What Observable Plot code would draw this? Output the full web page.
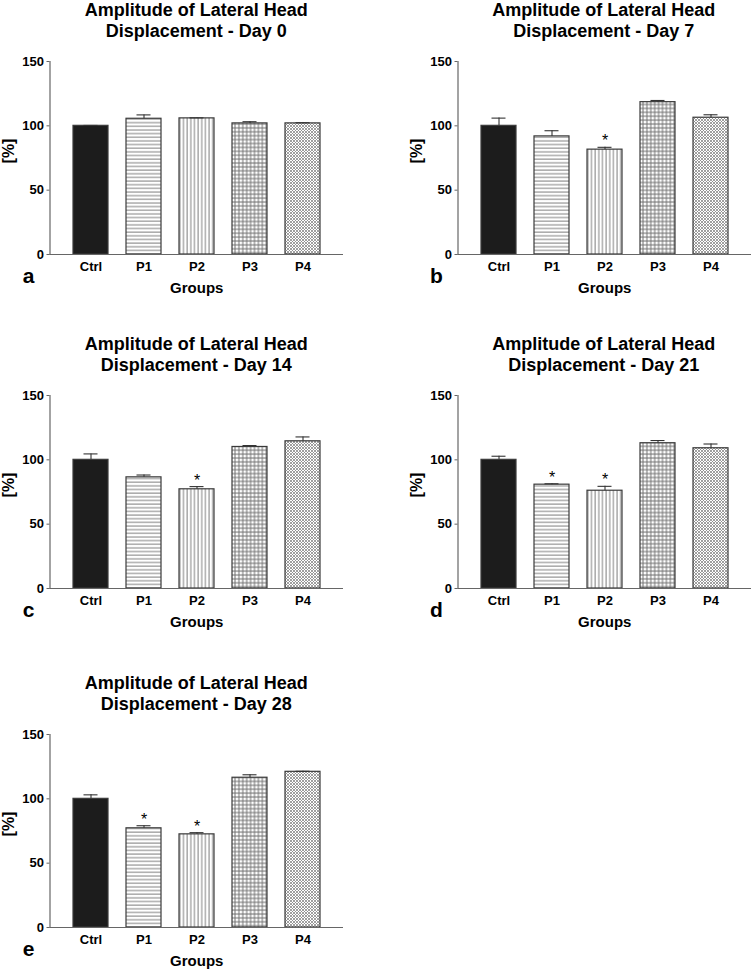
<!DOCTYPE html>
<html>
<head>
<meta charset="utf-8">
<script src="https://cdn.jsdelivr.net/npm/d3@7"></script>
<script src="https://cdn.jsdelivr.net/npm/@observablehq/plot@0.6"></script>
<style>
  html, body { margin: 0; padding: 0; background: #fff; }
  body { position: relative; width: 752px; height: 971px; overflow: hidden; font-family: "Liberation Sans", Arial, sans-serif; }
  .panel { position: absolute; width: 346px; height: 330px; }
  .title { position: absolute; left: 49.5px; width: 293.5px; top: 0px; text-align: center; font-size: 18px; font-weight: bold; line-height: 21px; color: #000; }
  .panel svg { position: absolute; left: 0; top: 45px; overflow: visible; }
</style>
</head>
<body>
<script>
// ---- data ----
const groups = ["Ctrl", "P1", "P2", "P3", "P4"];
const days = [0, 7, 14, 21, 28];
const letters = ["a", "b", "c", "d", "e"];
const titlePrefix = "Amplitude of Lateral Head";
const titleSuffix = "Displacement - Day ";
const yTicks = [0, 50, 100, 150];

const means0 = [100, 105.5, 105.8, 101.9, 101.9];
const errs0  = [0.3, 3.0, 0.4, 1.3, 0.5];
const means7 = [100, 91.8, 81.5, 118.4, 106.3];
const errs7  = [6.0, 4.4, 1.8, 1.3, 2.3];
const means14 = [100, 86.4, 77.1, 110.0, 114.4];
const errs14  = [4.6, 1.8, 2.1, 1.1, 3.4];
const means21 = [100, 80.7, 76.0, 112.9, 109.0];
const errs21  = [2.8, 0.7, 3.4, 2.1, 3.3];
const means28 = [100, 77.1, 72.4, 116.4, 121.0];
const errs28  = [3.1, 2.0, 1.3, 2.3, 0.4];

const stars0 = [];
const stars7 = ["P2"];
const stars14 = ["P2"];
const stars21 = ["P1", "P2"];
const stars28 = ["P1", "P2"];

const allMeans = [means0, means7, means14, means21, means28];
const allErrs = [errs0, errs7, errs14, errs21, errs28];
const allStars = [stars0, stars7, stars14, stars21, stars28];

// panel placement
const offsets = [[0, 0], [407.5, 0], [0, 334], [407.5, 334], [0, 673]];

function addPatterns(svg, k) {
  const defs = d3.select(svg).insert("defs", ":first-child");
  // P1 horizontal lines
  const p1 = defs.append("pattern").attr("id", `p1-${k}`).attr("patternUnits", "userSpaceOnUse")
    .attr("width", 10).attr("height", 3.65);
  p1.append("rect").attr("width", 10).attr("height", 3.65).attr("fill", "#fff");
  p1.append("line").attr("x1", 0).attr("x2", 10).attr("y1", 1).attr("y2", 1).attr("stroke", "#808080").attr("stroke-width", 1);
  // P2 vertical lines
  const p2 = defs.append("pattern").attr("id", `p2-${k}`).attr("patternUnits", "userSpaceOnUse")
    .attr("width", 3.65).attr("height", 10);
  p2.append("rect").attr("width", 3.65).attr("height", 10).attr("fill", "#fff");
  p2.append("line").attr("y1", 0).attr("y2", 10).attr("x1", 1).attr("x2", 1).attr("stroke", "#808080").attr("stroke-width", 1);
  // P3 grid
  const p3 = defs.append("pattern").attr("id", `p3-${k}`).attr("patternUnits", "userSpaceOnUse")
    .attr("width", 3.9).attr("height", 3.9);
  p3.append("rect").attr("width", 3.9).attr("height", 3.9).attr("fill", "#fff");
  p3.append("line").attr("x1", 0).attr("x2", 3.9).attr("y1", 1).attr("y2", 1).attr("stroke", "#707070").attr("stroke-width", 1);
  p3.append("line").attr("y1", 0).attr("y2", 3.9).attr("x1", 1).attr("x2", 1).attr("stroke", "#707070").attr("stroke-width", 1);
  // P4 fine crosshatch
  const p4 = defs.append("pattern").attr("id", `p4-${k}`).attr("patternUnits", "userSpaceOnUse")
    .attr("width", 3).attr("height", 3);
  p4.append("rect").attr("width", 3).attr("height", 3).attr("fill", "#fff");
  p4.append("path").attr("d", "M0,0L3,3M3,0L0,3").attr("stroke", "#888").attr("stroke-width", 0.8).attr("fill", "none");
}

for (let k = 0; k < 5; k++) {
  const data = groups.map((g, j) => ({
    group: g, mean: allMeans[k][j], err: allErrs[k][j], star: allStars[k].includes(g)
  }));
  const fills = {
    Ctrl: "#1c1c1c",
    P1: `url(#p1-${k})`,
    P2: `url(#p2-${k})`,
    P3: `url(#p3-${k})`,
    P4: `url(#p4-${k})`
  };

  const panel = document.createElement("div");
  panel.className = "panel";
  panel.style.left = offsets[k][0] + "px";
  panel.style.top = offsets[k][1] + "px";
  const title = document.createElement("div");
  title.className = "title";
  title.innerHTML = `${titlePrefix}<br>${titleSuffix}${days[k]}`;
  panel.appendChild(title);

  const svg = Plot.plot({
    width: 345,
    height: 270,
    marginLeft: 49.5,
    marginRight: 2,
    marginTop: 16,
    marginBottom: 61,
    style: { fontFamily: "'Liberation Sans', Arial, sans-serif", fontSize: "13px", fontWeight: "bold", background: "transparent", color: "#000", overflow: "visible" },
    x: { domain: groups, paddingInner: 0.333, paddingOuter: 0.39, label: null },
    y: { domain: [0, 150], label: null },
    color: { type: "identity" },
    marks: [
      Plot.barY(data, { x: "group", y: "mean", fill: d => fills[d.group], stroke: "#3a3a3a", strokeWidth: 1.2 }),
      Plot.ruleX(data, { x: "group", y1: "mean", y2: d => d.mean + d.err, stroke: "#333", strokeWidth: 1.1 }),
      Plot.tickY(data, { x: "group", y: d => d.mean + d.err, insetLeft: 10.5, insetRight: 10.5, stroke: "#333", strokeWidth: 1.1 }),
      Plot.text(data.filter(d => d.star), { x: "group", y: d => d.mean + d.err, text: () => "*", dy: -6, fontSize: 16, fontWeight: "normal", fill: "#000" }),
      Plot.ruleY([0], { stroke: "#666", strokeWidth: 1.2 }),
      Plot.frame({ anchor: "left", stroke: "#666", strokeWidth: 1.2 }),
      Plot.axisY({ ticks: yTicks, tickSize: 3, tickPadding: 3, tickFormat: d => String(d), stroke: "#666", label: null, fontSize: 13 }),
      Plot.axisX({ tickSize: 0, tickPadding: 7, label: null, fontSize: 13 }),
      Plot.text(["Groups"], { frameAnchor: "bottom", dy: 34, lineAnchor: "middle", fontSize: 15, text: d => d, fill: "#000" }),
      Plot.text(["[%]"], { frameAnchor: "left", dx: -41.5, dy: -7, rotate: -90, lineAnchor: "middle", textAnchor: "middle", fontSize: 16, text: d => d, fill: "#000" }),
      Plot.text([letters[k]], { frameAnchor: "bottom-left", dx: -21.5, dy: 22, lineAnchor: "middle", textAnchor: "middle", fontSize: 21, text: d => d, fill: "#000" })
    ]
  });
  addPatterns(svg, k);
  panel.appendChild(svg);
  document.body.appendChild(panel);
}
</script>
</body>
</html>
